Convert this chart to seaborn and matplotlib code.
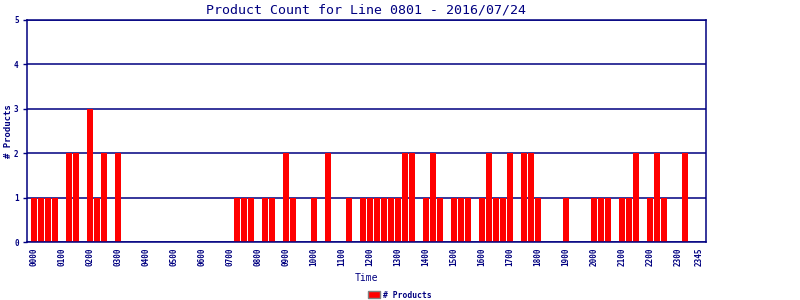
import matplotlib
matplotlib.use("Agg")
import matplotlib.pyplot as plt
import seaborn as sns
import pandas as pd
from matplotlib.patches import Patch

# 15-minute slots over the day
slot_labels = [f"{h:02d}{m:02d}" for h in range(24) for m in (0, 15, 30, 45)]
counts = [
    1, 1, 1, 1, 0, 2, 2, 0, 3, 1, 2, 0,   # 00:00 - 02:45
    2, 0, 0, 0, 0, 0, 0, 0, 0, 0, 0, 0,   # 03:00 - 05:45
    0, 0, 0, 0, 0, 1, 1, 1, 0, 1, 1, 0,   # 06:00 - 08:45
    2, 1, 0, 0, 1, 0, 2, 0, 0, 1, 0, 1,   # 09:00 - 11:45
    1, 1, 1, 1, 1, 2, 2, 0, 1, 2, 1, 0,   # 12:00 - 14:45
    1, 1, 1, 0, 1, 2, 1, 1, 2, 0, 2, 2,   # 15:00 - 17:45
    1, 0, 0, 0, 1, 0, 0, 0, 1, 1, 1, 0,   # 18:00 - 20:45
    1, 1, 2, 0, 1, 2, 1, 0, 0, 2, 0, 0,   # 21:00 - 23:45
]
tick_labels = ["0000", "0100", "0200", "0300", "0400", "0500", "0600", "0700",
               "0800", "0900", "1000", "1100", "1200", "1300", "1400", "1500",
               "1600", "1700", "1800", "1900", "2000", "2100", "2200", "2300", "2345"]

title = "Product Count for Line 0801 - 2016/07/24"
navy = "#000080"
red = "#FF0000"

df = pd.DataFrame({"slot": slot_labels, "count": counts})

sns.set_theme(style="white")
plt.rcParams["font.family"] = ["DejaVu Sans Mono", "DejaVu Sans"]

fig = plt.figure(figsize=(8, 3), dpi=100)
ax = fig.add_axes([27 / 800, 1 - 242 / 300, 679 / 800, 222 / 300])

sns.barplot(data=df, x="slot", y="count", color=red, width=0.86,
            saturation=1, linewidth=0, edgecolor=red, ax=ax, zorder=3)

ax.set_xlim(-1, 96)
ax.set_ylim(0, 5)
ax.set_yticks(range(6))
ax.yaxis.grid(True, color=navy, linewidth=1.1)
ax.set_axisbelow(True)

tick_pos = [slot_labels.index(t) for t in tick_labels]
ax.set_xticks(tick_pos)
ax.set_xticklabels(tick_labels, rotation=90, fontsize=5.5, fontweight="bold",
                   color=navy)
ax.tick_params(axis="x", length=0, pad=4)
ax.tick_params(axis="y", length=3, width=1, color=navy, labelsize=5.5,
               labelcolor=navy, direction="out", left=True, pad=3)
for lab in ax.get_yticklabels():
    lab.set_fontweight("bold")

for s in ax.spines.values():
    s.set_color(navy)
    s.set_linewidth(1.1)
    s.set_zorder(5)

ax.set_xlabel("Time", fontsize=7, color=navy, labelpad=5)
ax.set_ylabel("# Products", fontsize=6.5, color=navy, fontweight="bold")
ax.yaxis.set_label_coords(-14 / 679, 0.5)
ax.set_title(title, fontsize=9.5, color=navy, pad=5)

handle = Patch(facecolor=red, edgecolor="#808080", linewidth=1)
fig.legend([handle], ["# Products"], loc="center", bbox_to_anchor=(0.5, 1 - 295 / 300),
           frameon=False, prop={"size": 5.8, "weight": "bold"}, labelcolor=navy,
           handlelength=1.5, handleheight=0.9, handletextpad=0.4)

fig.savefig("out.png", dpi=100)
